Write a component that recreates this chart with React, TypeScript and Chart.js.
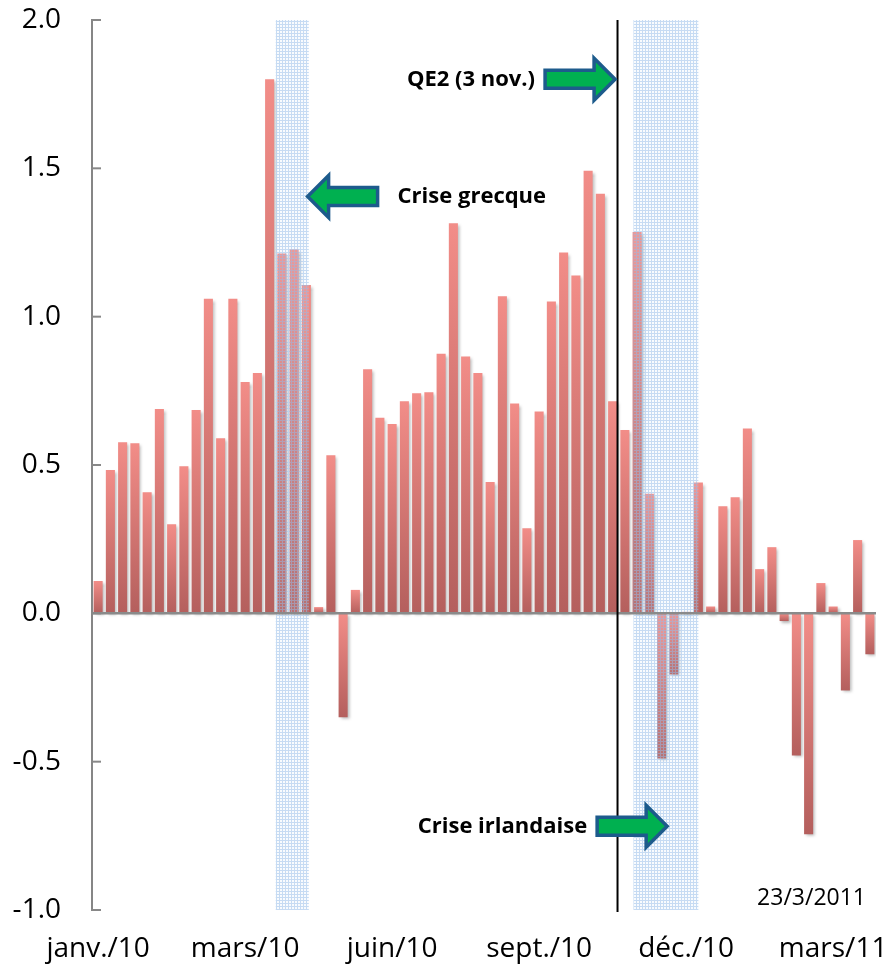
import React, { useEffect, useRef } from "react";
import { Chart, registerables } from "chart.js";

Chart.register(...registerables);

// Weekly values (Jan 2010 – Mar 2011)
const values: number[] = [
  0.109, 0.483, 0.577, 0.573, 0.408, 0.689, 0.300, 0.496, 0.685, 1.060,
  0.590, 1.060, 0.780, 0.810, 1.800, 1.213, 1.226, 1.107, 0.021, 0.533,
  -0.350, 0.079, 0.823, 0.659, 0.638, 0.715, 0.742, 0.745, 0.875, 1.315,
  0.866, 0.810, 0.443, 1.069, 0.707, 0.287, 0.680, 1.051, 1.216, 1.139,
  1.492, 1.414, 0.715, 0.618, 1.285, 0.403, -0.489, -0.206, 0.005, 0.441,
  0.023, 0.361, 0.391, 0.623, 0.149, 0.223, -0.026, -0.479, -0.745, 0.102,
  0.023, -0.260, 0.247, -0.138,
];

const tickLabels: string[] = ["janv./10", "mars/10", "juin/10", "sept./10", "déc./10", "mars/11"];
const tickIndexes: number[] = [0, 12, 24, 36, 48, 60];

const categories: string[] = values.map((_, i) => {
  const k = tickIndexes.indexOf(i);
  return k >= 0 ? tickLabels[k] : "";
});

// Shaded crisis periods (in category index units)
const bandStarts: number[] = [14.5, 43.7];
const bandEnds: number[] = [17.2, 49.0];

// QE2 announcement line (category index)
const qe2Index = 42.4;

// Annotations: arrow tip positions in data units
const noteTexts: string[] = ["QE2 (3 nov.)", "Crise grecque", "Crise irlandaise"];
const noteX: number[] = [42.2, 17.1, 46.45];
const noteY: number[] = [1.8, 1.405, -0.718];
const noteDir: number[] = [1, -1, 1];

const dateStamp = "23/3/2011";

const FONT = "'Open Sans', 'Noto Sans', sans-serif";

function makePattern(ctx: CanvasRenderingContext2D): CanvasPattern | string {
  const c = document.createElement("canvas");
  c.width = 3;
  c.height = 3;
  const p = c.getContext("2d");
  if (!p) return "rgba(190,215,240,0.4)";
  p.fillStyle = "rgba(205,225,248,0.14)";
  p.fillRect(0, 0, 3, 3);
  p.fillStyle = "rgba(150,188,234,0.5)";
  p.fillRect(0, 0, 3, 1);
  p.fillRect(0, 1, 1, 2);
  return ctx.createPattern(c, "repeat") || "rgba(190,215,240,0.4)";
}

function drawArrow(ctx: CanvasRenderingContext2D, tipX: number, y: number, dir: number) {
  const L = 70;
  const head = 21;
  const h = 9;
  const H = 21;
  const tail = tipX - dir * L;
  const hb = tipX - dir * head;
  ctx.beginPath();
  ctx.moveTo(tail, y - h);
  ctx.lineTo(hb, y - h);
  ctx.lineTo(hb, y - H);
  ctx.lineTo(tipX, y);
  ctx.lineTo(hb, y + H);
  ctx.lineTo(hb, y + h);
  ctx.lineTo(tail, y + h);
  ctx.closePath();
  ctx.fillStyle = "#00B050";
  ctx.fill();
  ctx.lineWidth = 3.5;
  ctx.lineJoin = "miter";
  ctx.strokeStyle = "#1D5B8C";
  ctx.stroke();
}

const decorPlugin = {
  id: "decor",
  beforeDatasetsDraw(chart: any) {
    const ctx = chart.ctx;
    ctx.save();
    ctx.shadowColor = "rgba(0,0,0,0.28)";
    ctx.shadowBlur = 3;
    ctx.shadowOffsetX = 2;
    ctx.shadowOffsetY = 2;
  },
  afterDatasetsDraw(chart: any) {
    const ctx: CanvasRenderingContext2D = chart.ctx;
    ctx.restore();
    const area = chart.chartArea;
    const x = chart.scales.x;
    const y = chart.scales.y;

    // shaded bands
    const pat = makePattern(ctx);
    ctx.save();
    ctx.fillStyle = pat as any;
    for (let i = 0; i < bandStarts.length; i++) {
      const x0 = x.getPixelForValue(bandStarts[i]);
      const x1 = x.getPixelForValue(bandEnds[i]);
      ctx.fillRect(x0, area.top, x1 - x0, area.bottom - area.top);
    }
    ctx.restore();

    // zero line
    const y0 = y.getPixelForValue(0);
    ctx.save();
    ctx.strokeStyle = "#8A8A8A";
    ctx.lineWidth = 2.5;
    ctx.beginPath();
    ctx.moveTo(area.left, y0);
    ctx.lineTo(area.right, y0);
    ctx.stroke();

    // inner tick marks on y axis
    ctx.lineWidth = 2;
    ctx.strokeStyle = "#888888";
    for (const t of y.ticks) {
      const ty = y.getPixelForValue(t.value);
      ctx.beginPath();
      ctx.moveTo(area.left - 1, ty);
      ctx.lineTo(area.left + 9, ty);
      ctx.stroke();
    }

    // QE2 vertical line
    const qx = x.getPixelForValue(qe2Index);
    ctx.strokeStyle = "#000000";
    ctx.lineWidth = 2;
    ctx.beginPath();
    ctx.moveTo(qx, area.top);
    ctx.lineTo(qx, area.bottom + 2);
    ctx.stroke();
    ctx.restore();
  },
  afterDraw(chart: any) {
    const ctx: CanvasRenderingContext2D = chart.ctx;
    const area = chart.chartArea;
    const x = chart.scales.x;
    const y = chart.scales.y;
    ctx.save();
    for (let i = 0; i < noteTexts.length; i++) {
      const tx = x.getPixelForValue(noteX[i]);
      const ty = y.getPixelForValue(noteY[i]);
      const d = noteDir[i];
      drawArrow(ctx, tx, ty, d);
      ctx.font = `bold 22px ${FONT}`;
      ctx.fillStyle = "#000";
      ctx.textBaseline = "middle";
      if (d > 0) {
        ctx.textAlign = "right";
        ctx.fillText(noteTexts[i], tx - 70 - 10, ty);
      } else {
        ctx.textAlign = "left";
        ctx.fillText(noteTexts[i], tx + 70 + 20, ty);
      }
    }
    ctx.font = `23px ${FONT}`;
    ctx.textAlign = "right";
    ctx.textBaseline = "middle";
    ctx.fillStyle = "#000";
    ctx.fillText(dateStamp, area.right - 10, area.bottom - 12);
    ctx.restore();
  },
};

function barColor(c: any) {
  const chart = c.chart;
  const area = chart.chartArea;
  if (!area || c.type !== "data") return "#D87A76";
  const ys = chart.scales.y;
  const v = c.raw as number;
  const top = ys.getPixelForValue(Math.max(v, 0));
  const bot = ys.getPixelForValue(Math.min(v, 0));
  if (!(bot - top > 0.5)) return "#C66E6B";
  const g = chart.ctx.createLinearGradient(0, top, 0, bot);
  g.addColorStop(0, "#F28D88");
  g.addColorStop(1, "#B45F5D");
  return g;
}

export default function App() {
  const ref = useRef<HTMLCanvasElement | null>(null);
  useEffect(() => {
    document.body.style.margin = "0";
    const canvas = ref.current;
    if (!canvas) return;
    const tickFont = { family: FONT, size: 28 };
    const chart = new Chart(canvas, {
      type: "bar",
      data: {
        labels: categories,
        datasets: [
          {
            data: values,
            backgroundColor: barColor as any,
            borderWidth: 0,
            barPercentage: 0.74,
            categoryPercentage: 1,
          },
        ],
      },
      options: {
        animation: false,
        responsive: false,
        devicePixelRatio: 1,
        layout: { padding: { top: 20, right: 12, left: 0, bottom: 0 } },
        plugins: { legend: { display: false }, tooltip: { enabled: false } },
        scales: {
          x: {
            grid: { display: false, drawTicks: false },
            border: { display: false },
            ticks: {
              autoSkip: false,
              maxRotation: 0,
              minRotation: 0,
              padding: 22,
              color: "#000",
              font: tickFont,
            },
            afterFit: (s: any) => {
              s.height = 60;
              s.paddingLeft = 0;
              s.paddingRight = 0;
            },
          },
          y: {
            min: -1,
            max: 2,
            grid: { display: false, drawTicks: false },
            border: { display: true, color: "#868686", width: 2 },
            ticks: {
              stepSize: 0.5,
              padding: 31,
              color: "#000",
              font: tickFont,
              callback: (v: any) => Number(v).toFixed(1),
            },
            afterFit: (s: any) => {
              s.width = 92;
              s.paddingTop = 0;
              s.paddingBottom = 0;
            },
          },
        },
      },
      plugins: [decorPlugin],
    });
    return () => chart.destroy();
  }, []);
  return (
    <div style={{ width: 888, height: 970 }}>
      <canvas ref={ref} width={888} height={970} style={{ display: "block" }} />
    </div>
  );
}
